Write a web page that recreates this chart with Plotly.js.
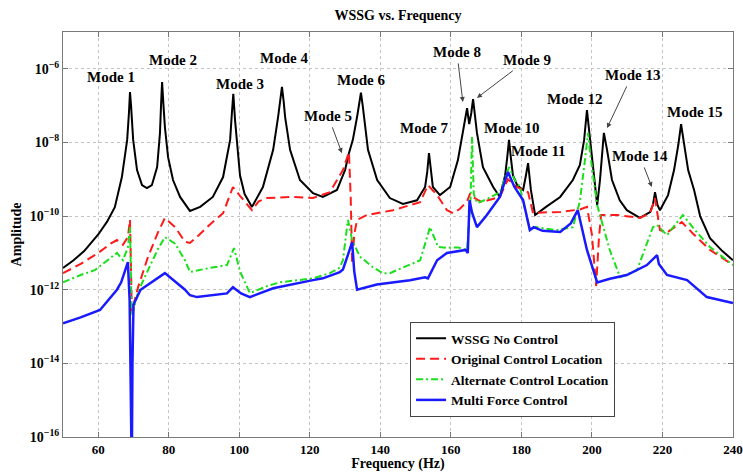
<!DOCTYPE html>
<html>
<head>
<meta charset="utf-8">
<script src="https://cdn.plot.ly/plotly-3.0.1.min.js"></script>
<style>html,body{margin:0;padding:0;background:#fff;}#chart{width:743px;height:472px;}</style>
</head>
<body>
<div id="chart"></div>
<script>
// Frequency (Hz) and log10(amplitude)
const freqNoControl = [50,53,56,60,62.5,64.7,66.7,68.2,68.7,69.0,
  69.3,69.9,71.0,72.4,73.8,75.2,76.7,77.5,77.8,78.1,
  78.5,78.9,79.8,81.2,83.2,86.0,88.9,92.5,95.4,97.4,
  97.9,98.3,98.8,100.2,101.5,103.6,106.7,109.6,111.0,111.6,
  112.1,112.6,113.0,114.4,117.2,120.9,123.7,127.7,130.0,131.1,
  132.2,133.4,134.0,134.5,135.0,135.4,136.5,139.1,142.7,146.4,
  150.4,152.7,153.3,153.8,154.3,154.9,156.9,159.8,162.0,163.4,
  164.6,165.2,165.8,166.3,166.8,167.4,169.1,172.0,173.9,175.4,
  176.0,176.5,177.0,177.6,178.8,180.5,181.3,181.9,182.7,183.9,
  187,191,194.6,196.6,197.8,198.6,199.5,200.6,201.5,202.3,
  202.9,203.4,204.3,205.7,207.9,209.9,213.6,216.5,217.3,217.9,
  218.6,219.3,221.6,223.3,224.5,225.3,226.2,227.3,229.0,230.7,
  233.5,237,240];
const logNoControl = [-11.41,-11.2,-10.95,-10.5,-10.15,-9.76,-8.94,-7.93,-7.2,-6.63,
  -7.0,-7.93,-8.75,-9.16,-9.24,-9.16,-8.67,-7.75,-7.0,-6.36,
  -7.0,-7.58,-8.4,-9.02,-9.48,-9.86,-9.75,-9.48,-8.94,-7.93,
  -7.2,-6.68,-7.4,-8.89,-9.4,-9.75,-9.21,-8.2,-7.31,-6.9,
  -6.49,-6.9,-7.31,-8.2,-9.02,-9.38,-9.48,-9.29,-8.75,-8.29,
  -7.93,-7.31,-7.0,-6.65,-7.0,-7.31,-8.2,-9.02,-9.51,-9.67,
  -9.57,-9.21,-8.8,-8.29,-8.8,-9.21,-9.43,-9.21,-8.48,-7.74,
  -7.07,-7.5,-7.2,-6.82,-7.3,-7.74,-8.67,-9.21,-9.48,-8.89,
  -8.4,-7.93,-8.4,-8.89,-9.16,-9.29,-8.89,-8.56,-9.29,-9.97,
  -9.75,-9.48,-9.02,-8.61,-7.93,-7.12,-7.93,-9.02,-9.7,-9.02,
  -8.2,-7.74,-8.2,-9.02,-9.57,-9.84,-10.05,-9.89,-9.7,-9.35,
  -9.7,-9.84,-9.43,-8.75,-8.07,-7.5,-8.07,-8.75,-9.3,-10.0,
  -10.6,-10.95,-11.2];

const freqOriginal = [50,55,60,61.9,63.5,65.3,67.0,68.4,69.0,69.2,
  69.5,70.3,71.3,74.1,76.9,78.9,81.8,84.6,86.0,88.5,
  92,95.4,98.2,100.2,103.6,105.5,107.9,115,120.9,125.7,
  129.4,131.1,131.6,132.0,132.6,133.4,136.2,143.6,151.3,153.5,
  156.1,158.9,160.6,162.6,164.6,165.5,166.5,168.8,173.9,176.2,
  178.5,180.5,181.9,183.3,186,191,196.6,198.6,200.0,201.2,
  202.0,202.6,207.1,213.6,216.5,217.9,219.3,221.3,225.5,228.7,
  233.5,240];
const logOriginal = [-11.55,-11.3,-11.0,-10.85,-10.75,-10.65,-10.78,-10.57,-10.1,-11.0,
  -12.6,-12.3,-11.93,-11.11,-10.45,-10.05,-10.3,-10.7,-10.73,-10.52,
  -10.2,-9.92,-9.21,-9.45,-9.84,-9.6,-9.51,-9.48,-9.51,-9.35,
  -8.75,-8.26,-9.5,-11.28,-10.5,-10.1,-9.97,-9.84,-9.62,-9.16,
  -9.43,-9.84,-9.92,-9.8,-9.6,-9.38,-9.5,-9.62,-9.48,-9.0,
  -9.2,-9.29,-9.35,-9.92,-9.9,-9.89,-9.82,-9.75,-10.5,-11.9,
  -10.6,-9.97,-9.97,-10.05,-9.92,-9.51,-10.38,-10.45,-10.16,-10.48,
  -10.92,-11.33];

const freqAlternate = [50,55,59,65.3,67.0,68.4,69.0,69.2,69.5,70.3,
  71.3,74.1,76.9,78.9,81.8,84.6,86.0,91,96.5,98.5,
  100.2,103.0,107.9,111.5,120.9,125.7,128.5,129.4,130.8,132.0,
  134.2,137.9,140.7,142.7,151.3,154.1,156.4,158.9,162,164.6,
  165.6,166.0,166.5,167.5,170,173.9,176.5,178,179.6,180.5,
  182.4,184,190,194.6,196.6,198.0,198.9,199.5,201.5,205,
  208.0,212.8,217.3,218.5,221.3,225.8,229,233.5,240];
const logAlternate = [-11.8,-11.6,-11.47,-11.0,-11.2,-10.85,-10.3,-11.2,-12.7,-12.45,
  -12.05,-11.47,-10.9,-10.57,-10.75,-11.2,-11.52,-11.42,-11.33,-10.87,
  -11.5,-12.09,-11.9,-11.8,-11.69,-11.55,-11.4,-11.2,-10.1,-10.65,
  -11.1,-11.39,-11.55,-11.55,-11.2,-10.3,-10.84,-10.86,-10.85,-10.92,
  -9.5,-7.85,-9.4,-9.65,-9.55,-9.35,-8.67,-9.0,-9.21,-9.6,
  -10.38,-10.3,-10.38,-10.3,-9.6,-8.5,-7.74,-8.3,-9.7,-10.9,
  -11.66,-11.47,-10.3,-10.24,-10.52,-9.97,-10.35,-10.84,-11.33];

const freqMulti = [50,55,60.5,65.3,66.5,68.4,68.9,69.3,69.5,69.7,
  70.0,72.0,76.0,78.9,84.6,86.0,88,96.5,98.2,100.5,
  103,106,109.6,120.9,123.7,128.5,129.4,131.0,132.0,132.6,
  133.4,139,148.4,152.7,153.5,156.1,158.9,164.2,164.8,165.3,
  166,167.4,170,173.9,176.2,178,180.5,182.4,183.5,186,
  191,194,196.0,198.6,201.5,205.1,209.9,215.6,218.5,219,
  221.3,227,232.6,240];
const logMulti = [-12.91,-12.75,-12.55,-12.0,-11.8,-11.25,-12.3,-14.5,-17,-14,
  -12.4,-12.0,-11.74,-11.55,-12.0,-12.15,-12.2,-12.1,-11.93,-12.1,
  -12.2,-12.1,-11.96,-11.74,-11.69,-11.52,-11.45,-11.0,-10.71,-11.5,
  -12.0,-11.86,-11.74,-11.66,-11.69,-11.2,-11.0,-10.92,-11.0,-9.57,
  -9.9,-10.3,-10.0,-9.48,-8.8,-9.2,-9.57,-10.38,-10.3,-10.4,
  -10.43,-10.2,-9.84,-10.92,-11.8,-11.7,-11.6,-11.33,-11.06,-11.3,
  -11.6,-11.74,-12.2,-12.36];

const seriesNames = ['WSSG No Control','Original Control Location','Alternate Control Location','Multi Force Control'];
const xTickVals = [60,80,100,120,140,160,180,200,220,240];
const yTickVals = [1e-16,1e-14,1e-12,1e-10,1e-8,1e-6];
const yTickText = ['10<sup>−16</sup>','10<sup>−14</sup>','10<sup>−12</sup>','10<sup>−10</sup>','10<sup>−8</sup>','10<sup>−6</sup>'];

// Mode labels: [text, freq, log10 amplitude of label centre, arrow head freq, arrow head log10 (or null)]
const modeLabels = [
  ['Mode 1',63.6,-6.22,null,null],['Mode 2',81.2,-5.76,null,null],['Mode 3',100.2,-6.41,null,null],
  ['Mode 4',112.7,-5.71,null,null],['Mode 5',125.2,-7.28,129.1,-8.29],['Mode 6',134.5,-6.30,null,null],
  ['Mode 7',152.4,-7.61,null,null],['Mode 8',161.7,-5.54,163.4,-6.90],['Mode 9',181.6,-5.76,167.4,-6.79],
  ['Mode 10',177.3,-7.61,null,null],['Mode 11',184.9,-8.23,null,null],['Mode 12',195.2,-6.82,null,null],
  ['Mode 13',211.4,-6.17,204.3,-7.61],['Mode 14',213.6,-8.37,217.0,-9.21],['Mode 15',229.0,-7.17,null,null]
];

const toAmp = a => a.map(v => Math.pow(10, v));
const FONT = '"Liberation Serif","Times New Roman",serif';

const traces = [
  {x:freqNoControl, y:toAmp(logNoControl), name:seriesNames[0], mode:'lines',
   line:{color:'#000000', width:2}},
  {x:freqOriginal, y:toAmp(logOriginal), name:seriesNames[1], mode:'lines',
   line:{color:'#ff1a1a', width:2, dash:'9px,5px'}},
  {x:freqAlternate, y:toAmp(logAlternate), name:seriesNames[2], mode:'lines',
   line:{color:'#1adf1a', width:2, dash:'7px,3px,2px,3px'}},
  {x:freqMulti, y:toAmp(logMulti), name:seriesNames[3], mode:'lines',
   line:{color:'#1a1aff', width:2.5}}
];

const labelFont = {family:FONT, size:15, color:'#000', weight:'bold'};
const annotations = modeLabels.map(m => {
  if (m[3] === null) {
    return {x:m[1], y:m[2], xref:'x', yref:'y', text:m[0], showarrow:false, font:labelFont};
  }
  return {x:m[3], y:m[4], ax:m[1], ay:m[2], xref:'x', yref:'y', axref:'x', ayref:'y',
    text:m[0], showarrow:true, arrowhead:2, arrowsize:1, arrowwidth:1, arrowcolor:'#444',
    standoff:0, startstandoff:2, font:labelFont};
});

const axisCommon = {
  showgrid:true, gridcolor:'#c4c4c4', griddash:'dot', gridwidth:1,
  ticks:'inside', ticklen:5, tickcolor:'#777', tickwidth:1,
  showline:true, linecolor:'#7a7a7a', linewidth:1, mirror:'ticks', zeroline:false,
  tickfont:{family:FONT, size:14, color:'#000', weight:'bold'}
};

const layout = {
  width:743, height:472,
  margin:{l:63, r:10, t:32, b:35},
  paper_bgcolor:'#fff', plot_bgcolor:'#fff',
  title:{text:'WSSG vs. Frequency', x:0.5, xref:'paper', y:0.968, yanchor:'middle',
         font:{family:FONT, size:14, color:'#000', weight:'bold'}},
  xaxis:Object.assign({}, axisCommon, {
    range:[50,240.02], tickmode:'array', tickvals:xTickVals,
    tickfont:{family:FONT, size:13, color:'#000', weight:'bold'},
    title:{text:'Frequency (Hz)', standoff:0, font:{family:FONT, size:14, color:'#000', weight:'bold'}}
  }),
  yaxis:Object.assign({}, axisCommon, {
    type:'log', range:[-16,-5], tickmode:'array', tickvals:yTickVals, ticktext:yTickText,
    title:{text:'Amplitude', standoff:4, font:{family:FONT, size:14, color:'#000', weight:'bold'}}
  }),
  showlegend:true,
  legend:{x:0.518, y:0.284, xanchor:'left', yanchor:'top', bgcolor:'#fff',
          bordercolor:'#444', borderwidth:1, itemwidth:30, tracegroupgap:0,
          font:{family:FONT, size:13.5, color:'#000', weight:'bold'}},
  annotations:annotations
};

Plotly.newPlot('chart', traces, layout, {displayModeBar:false, staticPlot:true});
</script>
</body>
</html>
